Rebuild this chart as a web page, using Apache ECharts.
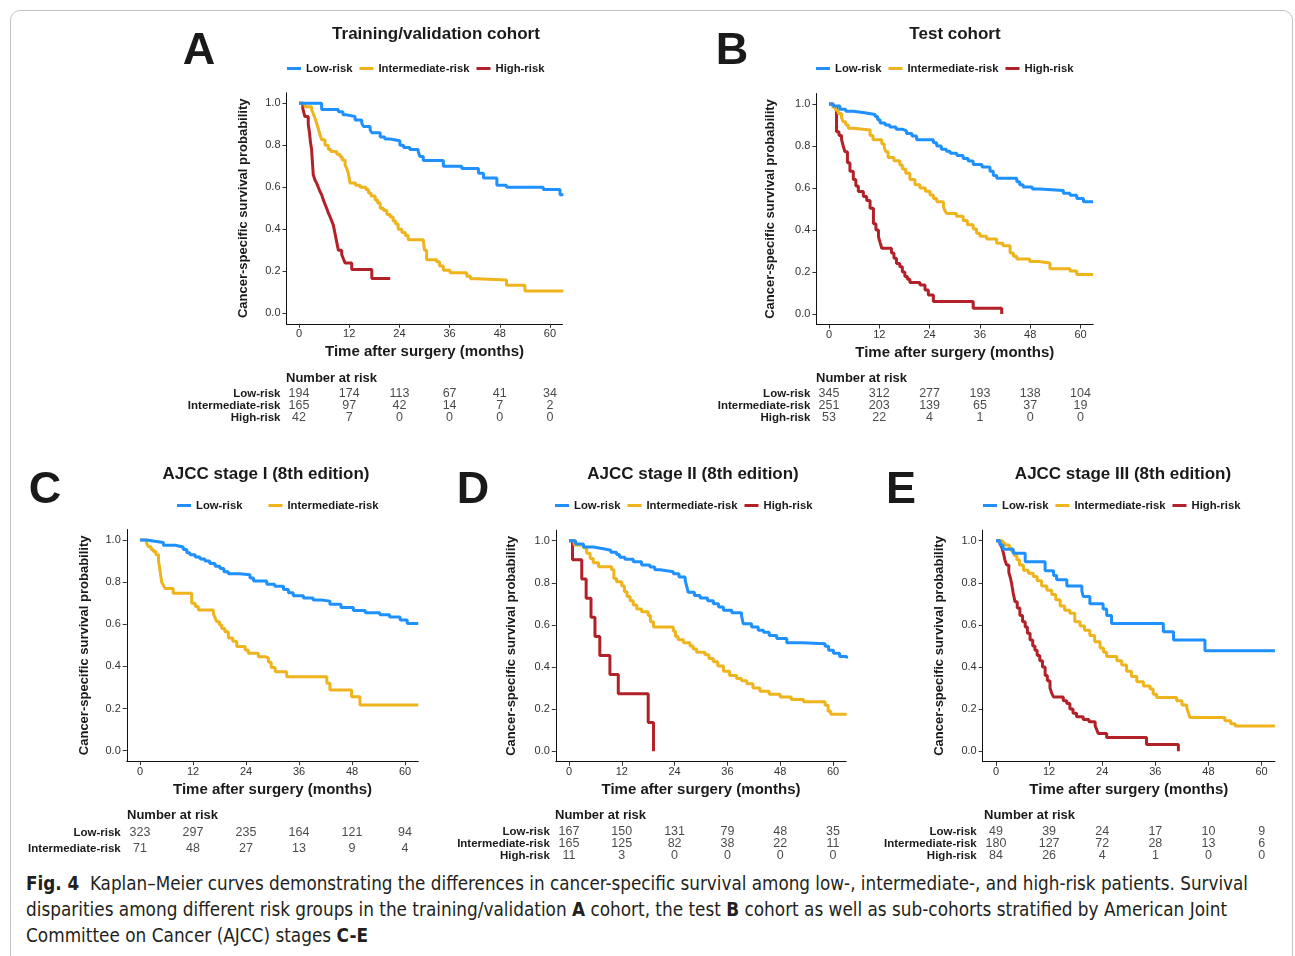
<!DOCTYPE html>
<html><head><meta charset="utf-8">
<script src="https://cdn.jsdelivr.net/npm/echarts@6/dist/echarts.min.js"></script>
<style>
html,body{margin:0;padding:0;background:#fff;overflow:hidden;width:1295px;height:956px;}
#frame{position:absolute;left:10px;top:10px;width:1283px;height:990px;border:1px solid #c4c4c4;border-radius:10px;box-sizing:border-box;}
#chart{position:absolute;left:0;top:0;width:1295px;height:862px;}
.cap{position:absolute;left:26px;white-space:nowrap;font-family:"Liberation Sans Narrow","DejaVu Sans Condensed","Liberation Sans",sans-serif;font-size:19px;line-height:26px;color:#231f20;transform-origin:0 50%;}
.cap b{font-weight:bold;}
</style></head><body>
<div id="frame"></div>
<div id="chart"></div>
<div class="cap" id="cap1" style="top:870px" data-w="1222"><b>Fig. 4</b>&nbsp; Kaplan–Meier curves demonstrating the differences in cancer-specific survival among low-, intermediate-, and high-risk patients. Survival</div>
<div class="cap" id="cap2" style="top:896px" data-w="1201">disparities among different risk groups in the training/validation <b>A</b> cohort, the test <b>B</b> cohort as well as sub-cohorts stratified by American Joint</div>
<div class="cap" id="cap3" style="top:922px" data-w="342">Committee on Cancer (AJCC) stages <b>C-E</b></div>
<script>
// ---------- data ----------
const timeTicks = [0, 12, 24, 36, 48, 60];
const survTicks = [0, 0.2, 0.4, 0.6, 0.8, 1.0];
const groups3 = ['Low-risk', 'Intermediate-risk', 'High-risk'];
const groups2 = ['Low-risk', 'Intermediate-risk'];

// Panel A: Training/validation cohort  [months, survival]
const lowA = [[0,1],[5.4,0.97],[9.4,0.96],[10.5,0.945],[11.4,0.937],[13.4,0.92],[15.0,0.905],[15.4,0.89],[17.0,0.873],[17.4,0.86],[19.4,0.84],[20.5,0.83],[21.8,0.822],[24.1,0.80],[25.0,0.79],[26.5,0.78],[28.5,0.77],[28.9,0.747],[29.7,0.728],[34.5,0.70],[38.9,0.69],[42.9,0.667],[44.1,0.644],[47.3,0.61],[49.6,0.60],[58.4,0.59],[62.4,0.565],[63.2,0.565]];
const intA = [[0,1],[1.4,0.984],[3.0,0.97],[3.4,0.95],[3.8,0.93],[4.2,0.905],[4.6,0.88],[5.0,0.85],[5.4,0.826],[6.2,0.80],[7.0,0.78],[7.6,0.77],[9.0,0.757],[9.8,0.745],[10.3,0.73],[11.0,0.707],[11.4,0.69],[11.8,0.667],[12.0,0.64],[12.2,0.62],[13.5,0.61],[14.6,0.60],[16.0,0.59],[16.6,0.573],[17.2,0.558],[18.2,0.54],[18.8,0.525],[19.4,0.50],[20.2,0.49],[21.0,0.47],[21.8,0.458],[22.5,0.44],[23.1,0.425],[23.7,0.40],[24.6,0.385],[25.4,0.37],[26.1,0.35],[29.7,0.343],[30.0,0.30],[30.5,0.255],[32.9,0.245],[33.6,0.225],[34.5,0.205],[36.1,0.193],[40.1,0.177],[41.0,0.165],[42.5,0.158],[49.6,0.133],[54.0,0.106],[63.2,0.106]];
const highA = [[0,1],[0.9,0.975],[1.2,0.952],[1.4,0.937],[2.2,0.9],[2.5,0.86],[2.7,0.82],[3.0,0.78],[3.2,0.72],[3.4,0.66],[3.8,0.635],[4.2,0.62],[4.6,0.60],[5.0,0.58],[5.4,0.565],[5.8,0.54],[6.2,0.52],[6.6,0.50],[7.0,0.478],[7.4,0.46],[7.8,0.44],[8.2,0.42],[8.6,0.38],[8.9,0.35],[9.2,0.32],[9.4,0.30],[10.2,0.28],[10.6,0.26],[11.0,0.24],[12.6,0.209],[17.4,0.166],[21.8,0.166]];
const riskLowA = [194, 174, 113, 67, 41, 34];
const riskIntA = [165, 97, 42, 14, 7, 2];
const riskHighA = [42, 7, 0, 0, 0, 0];

// Panel B: Test cohort
const lowB = [[0,1],[1.0,0.99],[2.6,0.975],[4.0,0.965],[5.8,0.958],[8.5,0.95],[11.0,0.94],[11.6,0.925],[12.2,0.91],[13.4,0.9],[14.5,0.89],[16.0,0.88],[17.5,0.872],[18.5,0.86],[19.8,0.848],[20.9,0.83],[24.9,0.815],[25.7,0.8],[26.8,0.785],[28.0,0.775],[28.9,0.765],[30.5,0.755],[32.0,0.74],[33.2,0.728],[34.4,0.712],[36.5,0.7],[38.4,0.68],[39.2,0.66],[40.0,0.647],[44.8,0.63],[45.5,0.615],[46.3,0.605],[48.5,0.595],[50.3,0.588],[55.9,0.575],[57.5,0.565],[59.1,0.55],[60.7,0.535],[63.0,0.535]];
const intB = [[0,1],[1.0,0.985],[1.6,0.97],[2.2,0.955],[3.0,0.935],[3.4,0.915],[4.0,0.9],[4.6,0.885],[5.8,0.876],[9.8,0.85],[10.5,0.83],[12.6,0.81],[13.2,0.79],[13.6,0.773],[14.1,0.745],[15.5,0.73],[16.9,0.71],[17.5,0.69],[18.3,0.67],[19.3,0.64],[20.5,0.615],[21.7,0.6],[23.0,0.585],[24.1,0.567],[24.9,0.55],[25.7,0.535],[27.3,0.51],[27.7,0.49],[28.1,0.478],[30.4,0.465],[32.0,0.445],[33.0,0.425],[34.4,0.405],[35.2,0.385],[36.0,0.37],[37.6,0.357],[40.0,0.337],[41.5,0.325],[43.2,0.29],[44.0,0.275],[44.8,0.262],[47.9,0.25],[50.0,0.243],[52.7,0.215],[57.5,0.205],[59.1,0.188],[63.0,0.188]];
const highB = [[0,1],[1.0,0.987],[1.8,0.868],[2.4,0.85],[3.0,0.83],[3.4,0.8],[3.8,0.773],[4.4,0.72],[5.0,0.68],[5.8,0.64],[6.4,0.61],[7.0,0.583],[8.2,0.56],[9.0,0.54],[9.8,0.503],[10.6,0.43],[11.2,0.4],[11.8,0.368],[12.2,0.34],[12.6,0.313],[14.9,0.29],[15.5,0.265],[16.1,0.24],[16.9,0.225],[17.5,0.2],[18.1,0.178],[18.7,0.165],[19.3,0.15],[21.7,0.138],[22.9,0.114],[23.7,0.09],[24.9,0.06],[34.4,0.027],[41.2,0.0]];
const riskLowB = [345, 312, 277, 193, 138, 104];
const riskIntB = [251, 203, 139, 65, 37, 19];
const riskHighB = [53, 22, 4, 1, 0, 0];

// Panel C: AJCC stage I
const lowC = [[0,1],[1.5,0.995],[3.0,0.988],[5.3,0.975],[8.0,0.967],[9.8,0.955],[10.6,0.94],[11.3,0.93],[12.5,0.92],[13.6,0.91],[14.7,0.9],[15.8,0.888],[17.0,0.875],[18.1,0.865],[19.0,0.85],[20.0,0.84],[22.5,0.835],[24.9,0.82],[25.7,0.805],[28.7,0.79],[30.5,0.78],[32.5,0.765],[33.6,0.75],[34.7,0.735],[37.0,0.725],[39.2,0.715],[41.0,0.71],[43.0,0.695],[45.5,0.68],[48.3,0.665],[51.0,0.655],[54.3,0.645],[56.5,0.635],[58.9,0.62],[60.5,0.604],[63.0,0.604]];
const intC = [[0,1],[1.5,0.984],[1.9,0.968],[2.5,0.955],[3.0,0.945],[3.6,0.93],[4.2,0.9],[4.5,0.86],[4.9,0.8],[5.3,0.785],[5.7,0.77],[7.5,0.747],[11.7,0.70],[12.5,0.684],[13.2,0.668],[16.6,0.652],[17.0,0.63],[17.4,0.612],[18.0,0.597],[18.5,0.58],[19.2,0.565],[20.0,0.535],[21.0,0.52],[21.9,0.494],[23.8,0.478],[24.5,0.462],[26.8,0.446],[28.5,0.438],[29.1,0.42],[29.7,0.395],[30.6,0.375],[33.2,0.351],[42.3,0.32],[43.0,0.288],[47.9,0.256],[49.8,0.217],[63.0,0.217]];
const riskLowC = [323, 297, 235, 164, 121, 94];
const riskIntC = [71, 48, 27, 13, 9, 4];

// Panel D: AJCC stage II
const lowD = [[0,1],[1.5,0.985],[3.3,0.97],[5.5,0.962],[7.8,0.955],[9.5,0.945],[10.8,0.935],[11.5,0.922],[12.7,0.912],[14.6,0.9],[16.5,0.885],[18.4,0.875],[19.5,0.862],[20.7,0.853],[23.7,0.843],[25.0,0.828],[26.4,0.812],[26.8,0.78],[27.1,0.755],[28.5,0.74],[29.8,0.728],[31.5,0.715],[32.8,0.7],[34.0,0.685],[35.1,0.67],[37.0,0.658],[39.2,0.645],[39.6,0.605],[41.5,0.59],[43.0,0.575],[44.2,0.565],[45.5,0.55],[47.2,0.535],[49.5,0.515],[53.0,0.51],[58.2,0.498],[59.0,0.48],[60.1,0.465],[61.5,0.45],[63.1,0.44]];
const intD = [[0,1],[1.2,0.98],[3.3,0.965],[4.0,0.94],[4.8,0.915],[5.5,0.895],[6.7,0.876],[9.7,0.862],[10.2,0.82],[10.8,0.805],[12.0,0.785],[12.6,0.757],[13.2,0.735],[13.9,0.715],[14.6,0.694],[15.4,0.675],[16.5,0.662],[18.0,0.645],[18.5,0.615],[19.2,0.59],[23.7,0.57],[24.2,0.545],[24.8,0.53],[26.0,0.515],[27.5,0.5],[28.2,0.485],[29.0,0.47],[30.9,0.458],[31.8,0.44],[32.8,0.425],[33.8,0.405],[35.1,0.38],[36.5,0.36],[38.1,0.345],[39.2,0.335],[40.4,0.32],[41.8,0.3],[43.4,0.285],[45.5,0.27],[48.0,0.258],[50.5,0.245],[53.3,0.235],[58.2,0.218],[58.9,0.19],[59.5,0.175],[63.1,0.175]];
const highD = [[0,1],[0.8,0.909],[2.9,0.818],[3.9,0.727],[5.0,0.636],[5.9,0.545],[7.0,0.455],[9.3,0.364],[11.2,0.273],[18.0,0.136],[19.2,0.0]];
const riskLowD = [167, 150, 131, 79, 48, 35];
const riskIntD = [165, 125, 82, 38, 22, 11];
const riskHighD = [11, 3, 0, 0, 0, 0];

// Panel E: AJCC stage III
const lowE = [[0,1],[0.9,0.98],[1.6,0.96],[3.9,0.94],[6.6,0.9],[11.1,0.857],[13.0,0.835],[13.7,0.815],[16.0,0.785],[19.4,0.76],[19.7,0.735],[21.2,0.7],[24.2,0.675],[25.0,0.645],[26.1,0.607],[37.8,0.567],[40.1,0.528],[47.2,0.477],[63.0,0.477]];
const intE = [[0,1],[1.5,0.99],[2.0,0.98],[3.0,0.965],[3.5,0.95],[4.1,0.93],[4.7,0.91],[5.3,0.885],[6.2,0.86],[7.3,0.845],[8.4,0.83],[9.3,0.81],[10.3,0.785],[11.5,0.765],[12.6,0.745],[13.5,0.72],[14.5,0.69],[15.5,0.67],[16.7,0.655],[17.8,0.615],[19.0,0.595],[20.0,0.575],[21.2,0.55],[22.3,0.52],[23.5,0.49],[24.3,0.47],[25.0,0.45],[27.3,0.43],[28.4,0.41],[29.5,0.38],[30.6,0.355],[31.8,0.33],[33.3,0.31],[34.8,0.295],[35.5,0.27],[36.3,0.255],[40.8,0.24],[42.0,0.22],[43.1,0.205],[43.5,0.18],[43.8,0.16],[51.7,0.145],[53.0,0.13],[54.0,0.12],[63.0,0.12]];
const highE = [[0,1],[0.9,0.987],[1.3,0.97],[1.7,0.94],[2.0,0.91],[2.4,0.885],[2.9,0.85],[3.3,0.82],[3.5,0.8],[3.9,0.75],[4.3,0.71],[4.8,0.68],[5.4,0.645],[6.0,0.615],[6.6,0.59],[7.1,0.56],[7.7,0.528],[8.3,0.5],[8.8,0.48],[9.3,0.455],[9.9,0.43],[10.5,0.4],[11.1,0.36],[11.6,0.335],[12.2,0.3],[12.6,0.275],[13.0,0.258],[15.2,0.24],[16.0,0.227],[16.7,0.2],[17.4,0.18],[18.2,0.163],[19.7,0.15],[21.0,0.14],[22.4,0.12],[22.8,0.1],[23.1,0.084],[25.0,0.065],[34.0,0.032],[41.2,0.0]];
const riskLowE = [49, 39, 24, 17, 10, 9];
const riskIntE = [180, 127, 72, 28, 13, 6];
const riskHighE = [84, 26, 4, 1, 0, 0];

// ---------- layout / style ----------
const COLORS = {'Low-risk':'#1E90FF','Intermediate-risk':'#EFB31C','High-risk':'#B22028'};
const FONT = '"Liberation Sans", Arial, Helvetica, sans-serif';
const panels = [
  {title:'Training/validation cohort', letter:'A', groups:groups3, curves:[lowA,intA,highA], risk:[riskLowA,riskIntA,riskHighA],
   grid:{left:286.5,top:92.8,width:276,height:231}, riskGrid:{top:388,height:36}, titlePos:[436,34], letterPos:[199,52], legend:{left:282,top:58,gap:7}, nar:[286,378], yGap:37},
  {title:'Test cohort', letter:'B', groups:groups3, curves:[lowB,intB,highB], risk:[riskLowB,riskIntB,riskHighB],
   grid:{left:816.4,top:93.5,width:276.7,height:231}, riskGrid:{top:388,height:36}, titlePos:[955,34], letterPos:[732,52], legend:{left:811,top:58,gap:7}, nar:[816,378], yGap:39},
  {title:'AJCC stage I (8th edition)', letter:'C', groups:groups2, curves:[lowC,intC], risk:[riskLowC,riskIntC],
   grid:{left:126.75,top:529.5,width:291.5,height:231.7}, riskGrid:{top:825,height:32}, titlePos:[266,474], letterPos:[45,491], legend:{left:172,top:495,gap:26}, nar:[127,815], yGap:36},
  {title:'AJCC stage II (8th edition)', letter:'D', groups:groups3, curves:[lowD,intD,highD], risk:[riskLowD,riskIntD,riskHighD],
   grid:{left:555.8,top:530.2,width:290.4,height:231.5}, riskGrid:{top:825.5,height:36}, titlePos:[693,474], letterPos:[473,491], legend:{left:550,top:495,gap:7}, nar:[555,815], yGap:38},
  {title:'AJCC stage III (8th edition)', letter:'E', groups:groups3, curves:[lowE,intE,highE], risk:[riskLowE,riskIntE,riskHighE],
   grid:{left:982.7,top:530.2,width:292.2,height:231.5}, riskGrid:{top:825.5,height:36}, titlePos:[1123,474], letterPos:[901,491], legend:{left:978,top:495,gap:7}, nar:[984,815], yGap:37}
];

const option = {animation:false, grid:[], xAxis:[], yAxis:[], series:[], legend:[], graphic:[]};
function txt(text, x, y, size, weight, align){
  return {type:'text', x:x, y:y, silent:true, style:{text:text, fontSize:size, fontWeight:weight, fontFamily:FONT, fill:'#1a1a1a',
    align:align||'center', verticalAlign:'middle', textAlign:align||'center', textVerticalAlign:'middle'}};
}
panels.forEach(function(p){
  const gi = option.grid.length;
  option.grid.push({left:p.grid.left, top:p.grid.top, width:p.grid.width, height:p.grid.height});
  option.grid.push({left:p.grid.left, top:p.riskGrid.top, width:p.grid.width, height:p.riskGrid.height});
  option.xAxis.push({gridIndex:gi, type:'value', min:-3, max:63,
    name:'Time after surgery (months)', nameLocation:'middle', nameGap:21,
    nameTextStyle:{fontSize:15, fontWeight:'bold', color:'#1a1a1a', fontFamily:FONT},
    axisLine:{show:true, onZero:false, lineStyle:{color:'#111', width:1}},
    axisTick:{show:true, customValues:timeTicks, length:4, lineStyle:{color:'#333'}},
    axisLabel:{customValues:timeTicks, margin:5, fontSize:11, color:'#333', fontFamily:FONT},
    splitLine:{show:false}});
  option.yAxis.push({gridIndex:gi, type:'value', min:-0.05, max:1.05,
    name:'Cancer-specific survival probability', nameLocation:'middle', nameGap:p.yGap, nameRotate:90,
    nameTextStyle:{fontSize:13, fontWeight:'bold', color:'#1a1a1a', fontFamily:FONT},
    axisLine:{show:true, onZero:false, lineStyle:{color:'#111', width:1}},
    axisTick:{show:true, customValues:survTicks, length:4, lineStyle:{color:'#333'}},
    axisLabel:{customValues:survTicks, margin:6, fontSize:11, color:'#333', fontFamily:FONT, formatter:function(v){return Number(v).toFixed(1);}},
    splitLine:{show:false}});
  option.xAxis.push({gridIndex:gi+1, type:'value', min:-3, max:63, show:false});
  option.yAxis.push({gridIndex:gi+1, type:'category', data:p.groups, inverse:true,
    axisLine:{show:false}, axisTick:{show:false}, splitLine:{show:false},
    axisLabel:{interval:0, fontSize:11.5, fontWeight:'bold', color:'#1a1a1a', margin:6, fontFamily:FONT}});
  p.groups.forEach(function(g, k){
    option.series.push({type:'line', name:g, xAxisIndex:gi, yAxisIndex:gi, data:p.curves[k], step:'end',
      showSymbol:false, symbol:'none', silent:true, color:COLORS[g], lineStyle:{width:3, color:COLORS[g]}, z:5-k});
    option.series.push({type:'scatter', name:g+' at risk', xAxisIndex:gi+1, yAxisIndex:gi+1, silent:true,
      symbol:'circle', symbolSize:2, itemStyle:{color:'rgba(255,255,255,0)'},
      data:timeTicks.map(function(t, j){ return [t, g, p.risk[k][j]]; }),
      labelLayout:{hideOverlap:false},
      label:{show:true, position:'inside', formatter:function(q){return String(q.value[2]);}, fontSize:12.5, color:'#1a1a1a', fontFamily:FONT}});
  });
  option.legend.push({data:p.groups.map(function(g){return {name:g, itemStyle:{color:COLORS[g]}};}),
    left:p.legend.left, top:p.legend.top, itemGap:p.legend.gap, itemWidth:14, itemHeight:3, icon:'rect',
    selectedMode:false, textStyle:{fontSize:11.3, fontWeight:'bold', color:'#1a1a1a', fontFamily:FONT}});
  option.graphic.push(txt(p.title, p.titlePos[0], p.titlePos[1], 17, 'bold'));
  option.graphic.push(txt(p.letter, p.letterPos[0], p.letterPos[1], 45, 'bold'));
  option.graphic.push(txt('Number at risk', p.nar[0], p.nar[1], 13, 'bold', 'left'));
});

const chart = echarts.init(document.getElementById('chart'), null, {renderer:'canvas'});
chart.setOption(option);

// fit caption lines to the reference widths
document.querySelectorAll('.cap').forEach(function(el){
  const target = +el.getAttribute('data-w');
  const w = el.getBoundingClientRect().width;
  if (w > 0) el.style.transform = 'scaleX(' + (target / w) + ')';
});
</script>
</body></html>
